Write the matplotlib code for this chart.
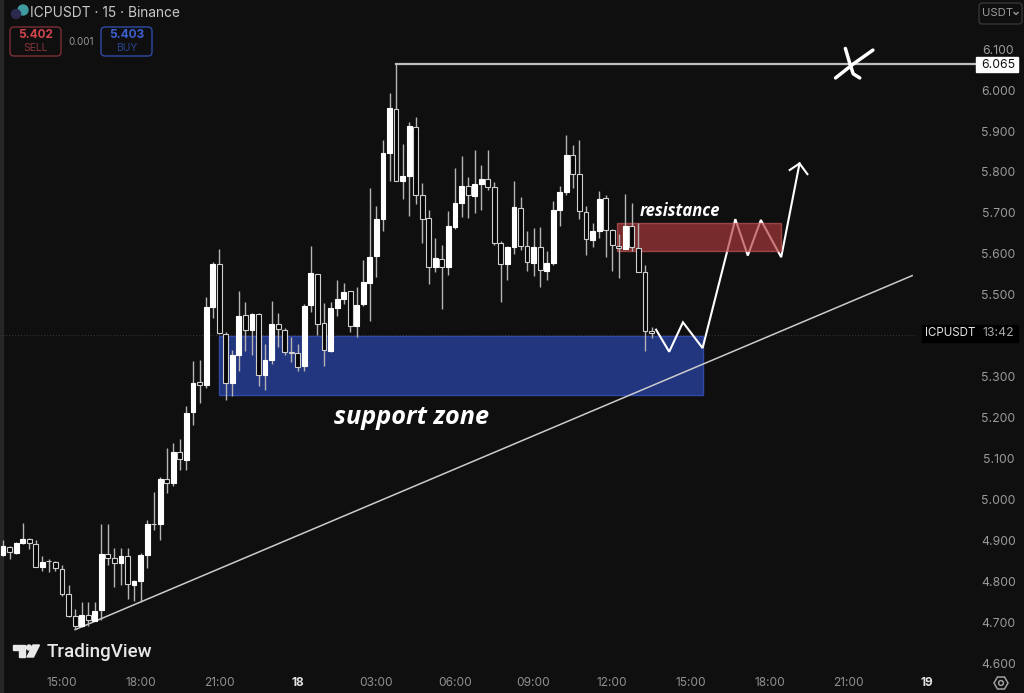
import matplotlib
matplotlib.use("Agg")
import matplotlib.pyplot as plt
from matplotlib.patches import FancyBboxPatch, Polygon, Rectangle, Circle
from matplotlib.transforms import Affine2D

# bars are counted from the 15:00 bar, 15 minutes each
first_bar = -9
opens = [4.866, 4.886, 4.870, 4.894, 4.905, 4.893, 4.835, 4.852, 4.848,
         4.831, 4.771, 4.717, 4.691, 4.719, 4.705, 4.730, 4.867, 4.857, 4.846,
         4.863, 4.792, 4.802, 4.866, 4.941, 4.941, 5.050, 5.041, 5.116, 5.098,
         5.214, 5.288, 5.281, 5.472, 5.576, 5.406, 5.285, 5.355, 5.451, 5.415,
         5.454, 5.306, 5.342, 5.429, 5.416, 5.362, 5.359, 5.326, 5.476, 5.553,
         5.432, 5.365, 5.468, 5.492, 5.510, 5.424, 5.478, 5.531, 5.595, 5.687,
         5.848, 5.955, 5.780, 5.791, 5.911, 5.745, 5.689, 5.570, 5.589, 5.568,
         5.666, 5.726, 5.766, 5.743, 5.771, 5.784, 5.764, 5.628, 5.576, 5.617,
         5.714, 5.620, 5.580, 5.618, 5.560, 5.580, 5.709, 5.752, 5.843, 5.796,
         5.703, 5.635, 5.656, 5.738, 5.659, 5.620, 5.614, 5.669, 5.616, 5.556, 5.412]
closes = [4.888, 4.873, 4.895, 4.905, 4.895, 4.836, 4.848, 4.850, 4.834,
          4.770, 4.717, 4.691, 4.720, 4.707, 4.729, 4.868, 4.858, 4.846, 4.863,
          4.795, 4.802, 4.866, 4.940, 4.940, 5.050, 5.041, 5.118, 5.100, 5.213,
          5.286, 5.281, 5.472, 5.577, 5.407, 5.285, 5.355, 5.450, 5.416, 5.454,
          5.306, 5.342, 5.429, 5.418, 5.362, 5.360, 5.324, 5.473, 5.555, 5.431,
          5.367, 5.469, 5.490, 5.508, 5.424, 5.477, 5.533, 5.594, 5.687, 5.847,
          5.957, 5.780, 5.791, 5.913, 5.745, 5.687, 5.570, 5.591, 5.569, 5.669,
          5.726, 5.767, 5.745, 5.771, 5.784, 5.764, 5.627, 5.576, 5.617, 5.715,
          5.620, 5.581, 5.618, 5.562, 5.579, 5.708, 5.752, 5.843, 5.797, 5.706,
          5.637, 5.656, 5.735, 5.660, 5.622, 5.616, 5.669, 5.618, 5.558, 5.412, 5.409]
highs = [4.903, 4.888, 4.897, 4.944, 4.907, 4.902, 4.864, 4.855, 4.852,
         4.842, 4.792, 4.734, 4.750, 4.750, 4.750, 4.940, 4.941, 4.883, 4.883,
         4.883, 4.805, 4.870, 4.952, 5.020, 5.057, 5.128, 5.138, 5.149, 5.230,
         5.340, 5.342, 5.495, 5.581, 5.613, 5.410, 5.367, 5.510, 5.483, 5.456,
         5.456, 5.380, 5.485, 5.457, 5.419, 5.399, 5.380, 5.479, 5.620, 5.553,
         5.482, 5.483, 5.537, 5.530, 5.511, 5.521, 5.585, 5.762, 5.719, 5.880,
         5.994, 6.065, 5.870, 5.923, 5.935, 5.775, 5.709, 5.640, 5.624, 5.705,
         5.810, 5.841, 5.790, 5.856, 5.819, 5.854, 5.776, 5.632, 5.621, 5.778,
         5.741, 5.658, 5.664, 5.668, 5.609, 5.731, 5.766, 5.892, 5.868, 5.880,
         5.719, 5.676, 5.755, 5.746, 5.662, 5.650, 5.747, 5.725, 5.676, 5.575, 5.423]
lows = [4.864, 4.856, 4.868, 4.892, 4.879, 4.835, 4.826, 4.823, 4.827,
        4.765, 4.715, 4.685, 4.689, 4.693, 4.704, 4.707, 4.840, 4.788, 4.792,
        4.758, 4.752, 4.750, 4.834, 4.927, 4.902, 5.016, 5.033, 5.073, 5.073,
        5.183, 5.238, 5.274, 5.445, 5.406, 5.243, 5.255, 5.316, 5.365, 5.353,
        5.278, 5.269, 5.332, 5.373, 5.353, 5.338, 5.314, 5.314, 5.459, 5.404,
        5.328, 5.361, 5.450, 5.479, 5.410, 5.398, 5.475, 5.438, 5.544, 5.658,
        5.780, 5.778, 5.736, 5.693, 5.723, 5.628, 5.528, 5.557, 5.467, 5.550,
        5.662, 5.691, 5.689, 5.701, 5.709, 5.758, 5.624, 5.483, 5.538, 5.602,
        5.611, 5.559, 5.546, 5.521, 5.537, 5.575, 5.670, 5.746, 5.762, 5.686,
        5.599, 5.617, 5.640, 5.594, 5.560, 5.541, 5.612, 5.607, 5.556, 5.365, 5.396]

price_ticks = [6.1, 6.0, 5.9, 5.8, 5.7, 5.6, 5.5, 5.3, 5.2, 5.1, 5.0, 4.9, 4.8, 4.7, 4.6]
price_labels = [f"{p:.3f}" for p in price_ticks]
time_bars = [0, 12, 24, 36, 48, 60, 72, 84, 96, 108, 120, 132]
time_labels = ["15:00", "18:00", "21:00", "18", "03:00", "06:00", "09:00", "12:00",
               "15:00", "18:00", "21:00", "19"]

high_price = 6.065
trend_x = [2, 129.8]
trend_y = [4.683, 5.548]
support = (24, 97.9, 5.257, 5.401)
resistance = (84.7, 109.8, 5.609, 5.677)
path_x = [90.7, 92.7, 94.8, 97.8, 102.8, 104.7, 106.7, 109.8, 112.6]
path_y = [5.416, 5.362, 5.434, 5.371, 5.686, 5.597, 5.684, 5.593, 5.822]
head_x = [111.1, 112.6, 113.8]
head_y = [5.806, 5.822, 5.796]
cross_a_x = [119.6, 120.3, 120.8, 121.8]
cross_a_y = [6.103, 6.065, 6.041, 6.031]
cross_b_x = [123.8, 120.8, 118.1]
cross_b_y = [6.099, 6.065, 6.031]

BG = "#0f0f0f"
plt.rcParams["font.family"] = ["Inter", "DejaVu Sans"]

fig = plt.figure(figsize=(10.24, 6.93), dpi=100, facecolor=BG)
ax = fig.add_axes([0, 0, 1, 1])
ax.set_facecolor(BG)
ax.set_xlim(-9.466, 146.87)
ax.set_ylim(4.5283, 6.2214)
ax.axis("off")

# screen pixels, y pointing down, for the chart's chrome
px = Affine2D().scale(1, -1).translate(0, 693)


def label(x, y, s, color="#9a9a9a", size=8.8, ha="center", **kw):
    ax.text(x, y, s, color=color, fontsize=size, ha=ha, va="center", transform=px, zorder=20, **kw)


ax.add_patch(Rectangle((0, 0), 3, 693, transform=px, color="#262626", zorder=1))

# last price, very faint
ax.plot([-9.466, 130], [5.403, 5.403], color="#3a3a3a", lw=0.7, ls=(0, (1, 2)), zorder=1)

ax.add_patch(Rectangle((support[0], support[2]), support[1] - support[0], support[3] - support[2],
                       facecolor="#22357f", edgecolor="#2f49a6", lw=1, zorder=2))

ax.plot([51, 140], [high_price, high_price], color="#bdbdbd", lw=1.6, zorder=3)
ax.plot(trend_x, trend_y, color="#cccccc", lw=1.1, zorder=3)

ax.plot(path_x, path_y, color="#ffffff", lw=1.5, solid_joinstyle="miter", zorder=4)
ax.plot(head_x, head_y, color="#ffffff", lw=1.5, solid_joinstyle="miter", zorder=4)
ax.plot(cross_a_x, cross_a_y, color="#ffffff", lw=2.5, solid_capstyle="round", zorder=4)
ax.plot(cross_b_x, cross_b_y, color="#ffffff", lw=2.5, solid_capstyle="round", zorder=4)

ax.add_patch(Rectangle((resistance[0], resistance[2]), resistance[1] - resistance[0],
                       resistance[3] - resistance[2], facecolor="#b03a3c", edgecolor="#c9585a",
                       alpha=0.66, lw=1, zorder=5))

bars = [first_bar + n for n in range(len(opens))]
ax.vlines(bars, lows, highs, color="#b4b4b4", lw=1, zorder=6)
for b, o, c in zip(bars, opens, closes):
    up = c >= o
    ax.bar(b, abs(c - o), bottom=min(o, c), width=0.74, color="#ffffff" if up else "#050505",
           edgecolor="#ffffff" if up else "#cfcfcf", lw=0.8, zorder=7)

ax.text(680, 211, "resistance", color="#ffffff", fontsize=12, fontstyle="italic", fontweight="bold",
        family="Open Sans", ha="center", va="center", transform=px, zorder=8)
ax.text(412, 418, "support zone", color="#ffffff", fontsize=18.2, fontstyle="italic", fontweight="bold",
        family="Open Sans", ha="center", va="center", transform=px, zorder=8)

# price scale, text sits a pixel high otherwise
for p, s in zip(price_ticks, price_labels):
    ax.annotate(s, xy=(0.975, p), xycoords=ax.get_yaxis_transform(), xytext=(0, -1),
                textcoords="offset pixels", color="#9a9a9a", fontsize=8.8, ha="center", va="center", zorder=20)

ax.add_patch(Rectangle((976, 57), 42, 15, transform=px, color="#ffffff", zorder=19))
label(998, 64.5, "6.065", color="#111111")
ax.add_patch(Rectangle((922, 325), 96, 17, transform=px, color="#000000", zorder=19))
label(925, 333.5, "ICPUSDT", color="#e6e6e6", size=8.3, ha="left")
label(998.5, 333.5, "13:42", color="#a8a8a8")

# time scale
btrans = ax.get_xaxis_transform()
for b, s in zip(time_bars, time_labels):
    day = ":" not in s
    ax.text(b, 1 - 683 / 693, s, color="#e0e0e0" if day else "#8f8f8f", fontsize=8.6,
            fontweight="bold" if day else "normal", ha="center", va="center", transform=btrans, zorder=20)

# header
label(30, 13, "ICPUSDT · 15 · Binance", color="#c8c8c8", size=9.9, ha="left")
ax.add_patch(Circle((23, 10), 5, transform=px, color="#3f9b9f", zorder=20))
ax.add_patch(Circle((16, 14), 4.5, transform=px, color="#2b2a4f", zorder=21))
ax.add_patch(FancyBboxPatch((10, 27), 51, 29, boxstyle="round,pad=0,rounding_size=4", transform=px,
                            facecolor="none", edgecolor="#7a2f35", lw=1, zorder=20))
label(35.5, 35.5, "5.402", color="#d0454c", size=8.5, fontweight="bold")
label(35.5, 48, "SELL", color="#8a363b", size=7.5)
label(81, 42, "0.001", color="#9a9a9a", size=7)
ax.add_patch(FancyBboxPatch((101, 27), 51, 29, boxstyle="round,pad=0,rounding_size=4", transform=px,
                            facecolor="none", edgecolor="#2f4ba6", lw=1, zorder=20))
label(126.5, 35.5, "5.403", color="#3d5fd0", size=8.5, fontweight="bold")
label(126.5, 48, "BUY", color="#2c448f", size=7.5)

ax.add_patch(FancyBboxPatch((979, 3), 43, 21, boxstyle="round,pad=0,rounding_size=3", transform=px,
                            facecolor="none", edgecolor="#353535", lw=1, zorder=20))
label(982, 13.5, "USDT", color="#9a9a9a", size=8.2, ha="left")
ax.plot([1014, 1016, 1018], [12.5, 14.5, 12.5], color="#9a9a9a", lw=1, transform=px, zorder=20)

# settings icon
ax.add_patch(Polygon([(994, 683), (997.5, 677), (1004.5, 677), (1008, 683), (1004.5, 689), (997.5, 689)],
                     transform=px, facecolor="none", edgecolor="#a0a0a0", lw=1.1, zorder=20))
ax.add_patch(Circle((1001, 683), 2.4, transform=px, facecolor="none", edgecolor="#a0a0a0", lw=1.1, zorder=20))

# TradingView logo
logo = "#e8e8e8"
ax.add_patch(Polygon([(13, 645), (25, 645), (25, 657), (19, 657), (19, 650), (13, 650)], transform=px, color=logo, zorder=20))
ax.add_patch(Circle((29, 647.5), 2.5, transform=px, color=logo, zorder=20))
ax.add_patch(Polygon([(33, 645), (39.5, 645), (33.5, 657), (27, 657)], transform=px, color=logo, zorder=20))
ax.text(47, 652, "TradingView", color=logo, fontsize=13.5, fontweight="medium", family="Roboto",
        ha="left", va="center", transform=px, zorder=20)

fig.savefig("out.png", dpi=100, facecolor=BG)
